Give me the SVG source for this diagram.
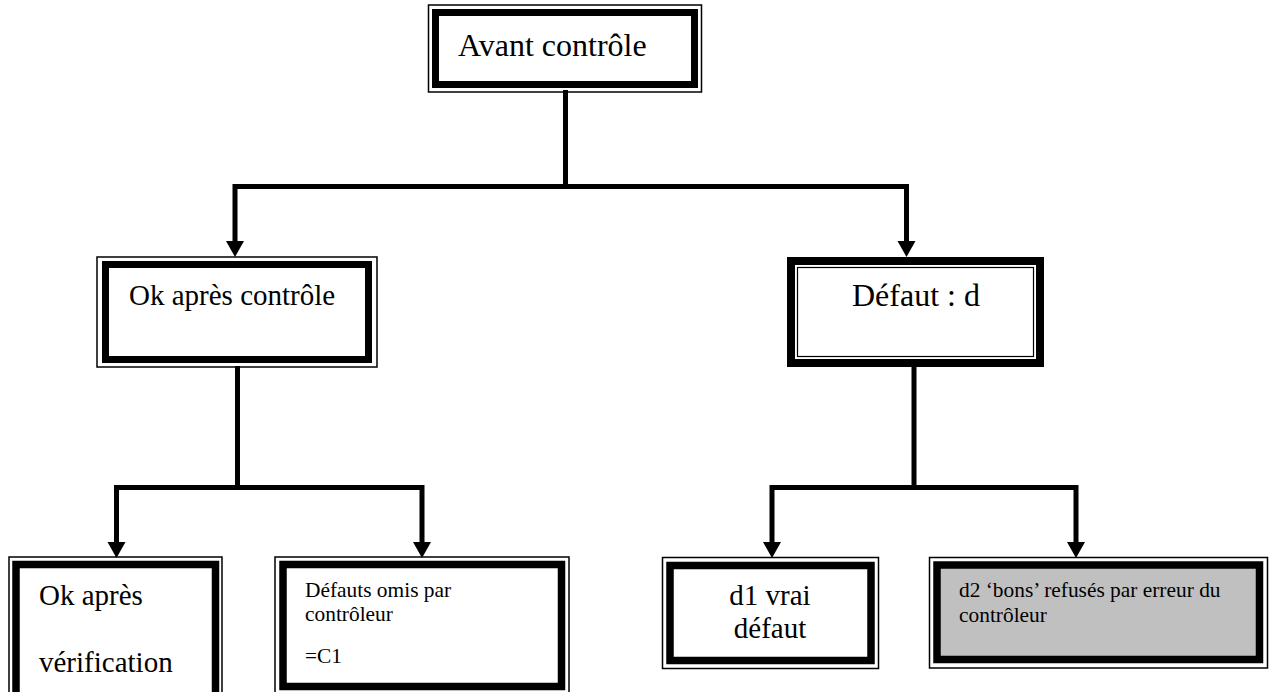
<svg xmlns="http://www.w3.org/2000/svg" width="1272" height="692" viewBox="0 0 1272 692">
  <style>
    .thick { fill: #ffffff; stroke: #000000; stroke-width: 7.5; }
    .thin { fill: none; stroke: #000000; stroke-width: 1.5; }
    .grey { fill: #c0c0c0; }
    .big { font-size: 32px; }
    .mid { font-size: 29px; }
    .small { font-size: 21.4px; }
    .wire { fill: none; stroke: #000000; stroke-width: 5; stroke-linejoin: miter; }
  </style>
  <defs>
    <marker id="head" markerUnits="userSpaceOnUse" markerWidth="20" markerHeight="20" viewBox="0 -10 17 20" refX="0" refY="0" orient="auto">
      <path d="M0,-9 L16,0 L0,9 z" fill="#000000"/>
    </marker>
  </defs>

  <rect width="1272" height="692" fill="#ffffff"/>

  <!-- connectors -->
  <g id="connectors">
    <path class="wire" d="M565.5,90 V186.5"/>
    <path class="wire" d="M568,186.5 H235 V241" marker-end="url(#head)"/>
    <path class="wire" d="M563,186.5 H906.5 V241" marker-end="url(#head)"/>

    <path class="wire" d="M237.5,366 V487.5"/>
    <path class="wire" d="M240,487.5 H116.5 V542" marker-end="url(#head)"/>
    <path class="wire" d="M235,487.5 H422 V542" marker-end="url(#head)"/>

    <path class="wire" d="M914,366 V487.5"/>
    <path class="wire" d="M916.5,487.5 H772 V542" marker-end="url(#head)"/>
    <path class="wire" d="M911.5,487.5 H1076 V542" marker-end="url(#head)"/>
  </g>

  <g font-family="'Liberation Serif', Tinos, 'Nimbus Roman', 'Nimbus Roman No9 L', FreeSerif, 'Noto Serif', 'DejaVu Serif', serif" fill="#000000">
    <!-- root -->
    <g id="avant-controle">
      <rect class="thin" x="428.5" y="5" width="273" height="87"/>
      <rect class="thick" x="435.5" y="12.5" width="259" height="72" style="stroke-width:7"/>
      <text class="big" x="458" y="56">Avant contrôle</text>
    </g>

    <!-- second level -->
    <g id="ok-apres-controle">
      <rect class="thin" x="97" y="257" width="280" height="110"/>
      <rect class="thick" x="105.5" y="264.5" width="263" height="95" style="stroke-width:7"/>
      <text class="mid" x="129" y="305">Ok après contrôle</text>
    </g>

    <g id="defaut-d">
      <rect class="thick" x="791" y="261" width="249" height="102" style="stroke-width:8"/>
      <rect class="thin" x="797.5" y="267.5" width="236" height="89" style="stroke-width:1.2"/>
      <text class="big" x="852" y="306">Défaut : d</text>
    </g>

    <!-- third level -->
    <g id="ok-apres-verification">
      <rect class="thin" x="9" y="557" width="213" height="150"/>
      <rect class="thick" x="16" y="564.5" width="199.5" height="140"/>
      <text class="mid" x="39" y="605">Ok après</text>
      <text class="mid" x="39" y="672">vérification</text>
    </g>

    <g id="defauts-omis">
      <rect class="thin" x="275" y="557" width="294" height="136"/>
      <rect class="thick" x="283" y="564.5" width="278.5" height="122"/>
      <text class="small" x="305" y="597">Défauts omis par</text>
      <text class="small" x="305" y="621">contrôleur</text>
      <text class="small" x="305" y="663">=C1</text>
    </g>

    <g id="d1-vrai-defaut">
      <rect class="thin" x="662.5" y="557.5" width="216" height="111"/>
      <rect class="thick" x="670" y="565.5" width="201" height="95"/>
      <text class="mid" x="770" y="605" text-anchor="middle">d1 vrai</text>
      <text class="mid" x="770" y="638" text-anchor="middle">défaut</text>
    </g>

    <g id="d2-bons-refuses">
      <rect class="thin" x="929.5" y="557.5" width="338" height="110.5"/>
      <rect class="thick grey" x="937" y="565" width="322.5" height="94.5"/>
      <text class="small" x="959" y="597">d2 ‘bons’ refusés par erreur du</text>
      <text class="small" x="959" y="622">contrôleur</text>
    </g>
  </g>
</svg>
